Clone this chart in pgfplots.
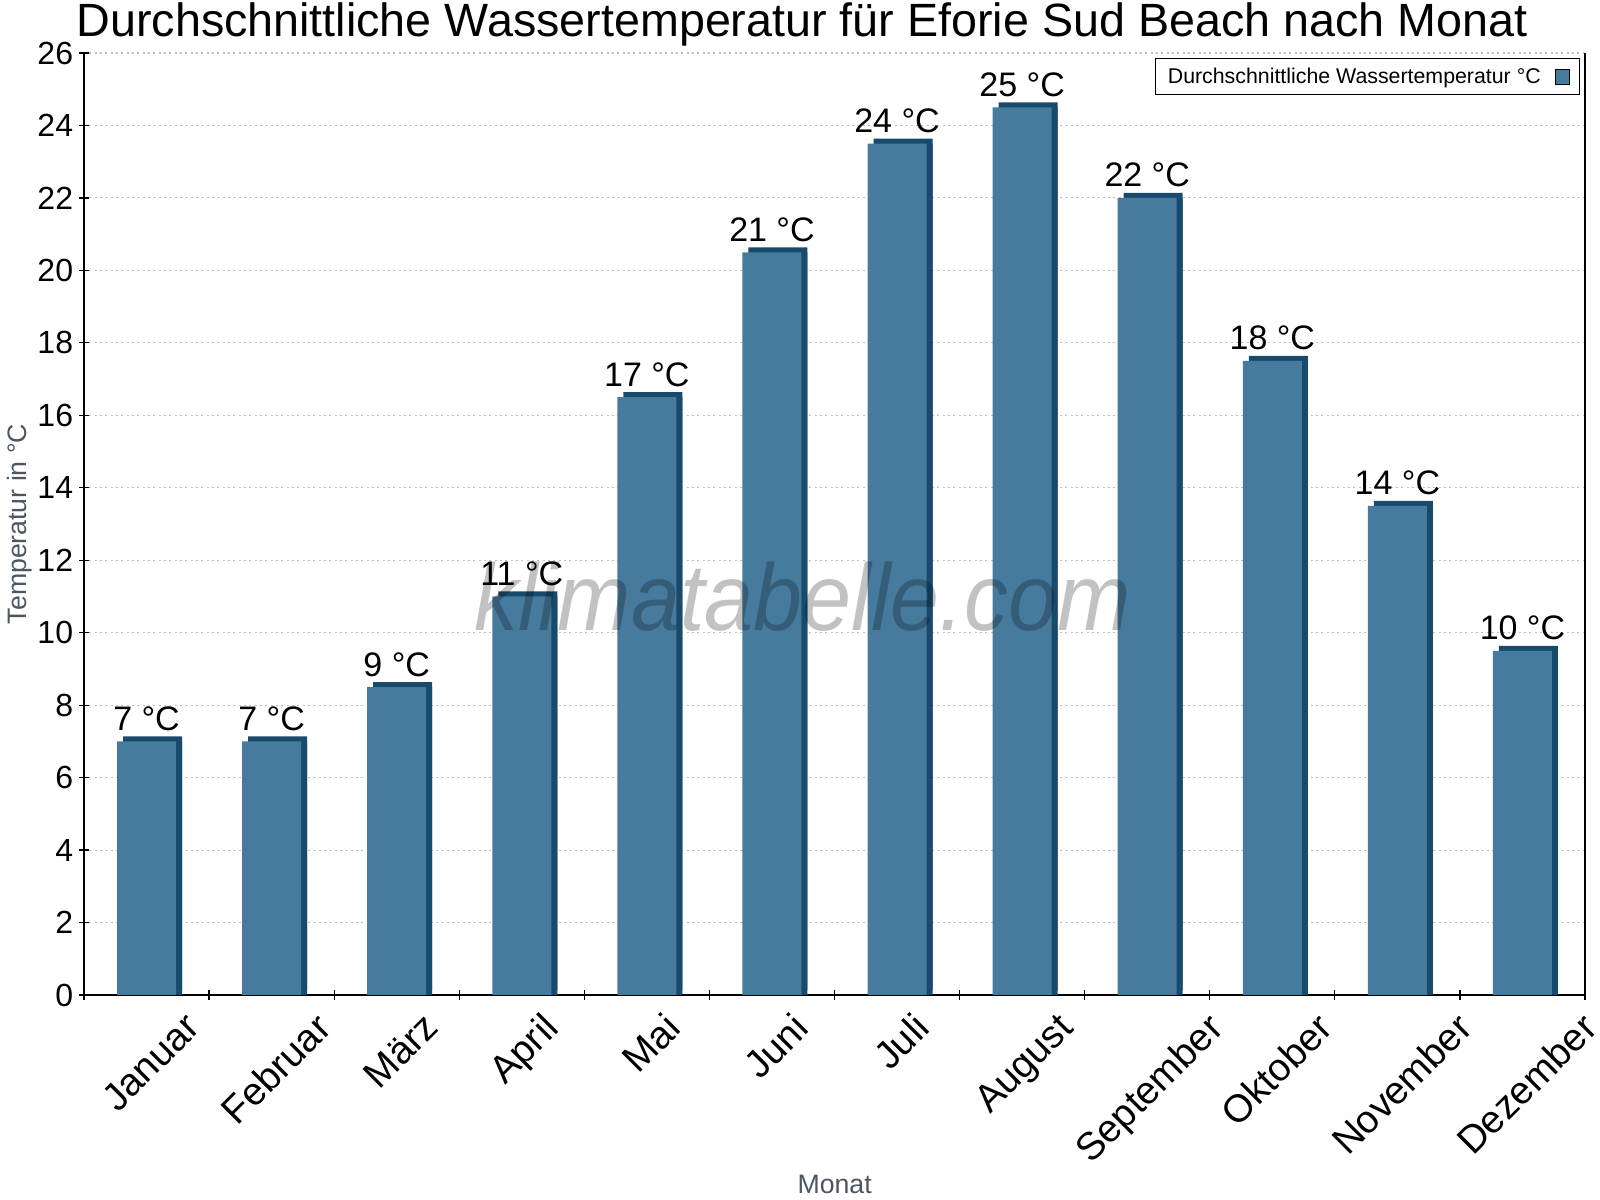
\documentclass[border=0pt]{standalone}
\usepackage{fontspec}
\setmainfont{Liberation Sans}
\usepackage{graphicx}
\usepackage{pgfplots}
\usepackage{pgfplotstable}
\pgfplotsset{compat=1.18}
\definecolor{barfront}{RGB}{70,123,158}
\definecolor{barside}{RGB}{24,74,108}
\definecolor{labgray}{RGB}{77,86,96}
\definecolor{gridgray}{RGB}{190,190,190}
\pgfplotstableread[col sep=comma]{
x,y,label
0,7.0,7 °C
1,7.0,7 °C
2,8.5,9 °C
3,11.0,11 °C
4,16.5,17 °C
5,20.5,21 °C
6,23.5,24 °C
7,24.5,25 °C
8,22.0,22 °C
9,17.5,18 °C
10,13.5,14 °C
11,9.5,10 °C
}\data
\newcommand{\rl}[1]{\rotatebox{45}{#1}}
\begin{document}
\begin{tikzpicture}
\path[use as bounding box] (0,0) rectangle (1200pt,900pt);
\begin{axis}[
  scale only axis,
  width=1125.75pt, height=706.5pt,
  at={(63pt,153.75pt)}, anchor=south west,
  xmin=-0.5, xmax=11.5, ymin=0, ymax=26,
  ytick={0,2,...,26},
  xtick={-0.5,0.5,...,11.5},
  x tick label as interval,
  xticklabels={\rl{Januar},\rl{Februar},\rl{März},\rl{April},\rl{Mai},\rl{Juni},\rl{Juli},\rl{August},\rl{September},\rl{Oktober},\rl{November},\rl{Dezember}},
  axis x line*=bottom, axis y line*=left,
  axis line style={line width=1.2pt, black},
  tick style={line width=0.9pt, black},
  tick align=center,
  major tick length=7pt,
  ymajorgrids,
  grid style={gridgray, line width=0.8pt, dash pattern=on 1.6pt off 2.4pt},
  /pgf/number format/assume math mode=true,
  yticklabel style={font=\fontsize{24}{28}\selectfont, inner sep=0pt, anchor=east, xshift=-4.5pt},
  xticklabel style={font=\fontsize{29}{34}\selectfont, inner sep=0pt, anchor=north, xshift=3pt, yshift=-8.25pt},
  legend plot pos=right,
  legend style={at={(1,1)}, anchor=north east, xshift=-4pt, yshift=-3.75pt,
    draw=black, line width=0.8pt, font=\fontsize{16}{19}\selectfont,
    inner xsep=7pt, inner ysep=5pt},
  legend image code/.code={\path (0pt,0pt); \draw[fill=barfront, draw=black, line width=0.6pt] (9pt,-5.6pt) rectangle (19.5pt,5.6pt);},
  clip=false,
]
\addplot[ybar, bar width=44.25pt, bar shift=0pt, fill=barside, draw=none, forget plot,
  xshift=4.5pt, yshift=3.75pt] table[x=x, y=y]{\data};
\addplot[ybar, bar width=44.25pt, bar shift=0pt, fill=barside, draw=none, forget plot,
  xshift=4.5pt] table[x=x, y=y]{\data};
\addplot[ybar, bar width=44.25pt, bar shift=0pt, fill=barfront, draw=none,
  nodes near coords, point meta=explicit symbolic,
  every node near coord/.append style={anchor=base, yshift=8.25pt, inner sep=0pt,
    font=\fontsize{25.5}{30}\selectfont, black}]
  table[x=x, y=y, meta=label]{\data};
\addlegendentry{Durchschnittliche Wassertemperatur °C}
\draw[line width=1.2pt, black] (rel axis cs:1,0) -- (rel axis cs:1,1);
\end{axis}
\node[anchor=base, font=\fontsize{35}{41}\selectfont, inner sep=0pt] at (601.5pt,872.25pt)
  {Durchschnittliche Wassertemperatur für Eforie Sud Beach nach Monat};
\node[anchor=base, font=\fontsize{20}{24}\selectfont, text=labgray, inner sep=0pt] at (626pt,5.25pt) {Monat};
\node[rotate=90, font=\fontsize{20}{24}\selectfont, text=labgray, inner sep=0pt] at (15pt,507pt) {Temperatur in °C};
\node[anchor=base, font=\fontsize{71}{80}\selectfont\itshape, text=black, opacity=0.24, inner sep=0pt, xscale=0.93] at (602pt,426.75pt) {klimatabelle.com};
\end{tikzpicture}
\end{document}
